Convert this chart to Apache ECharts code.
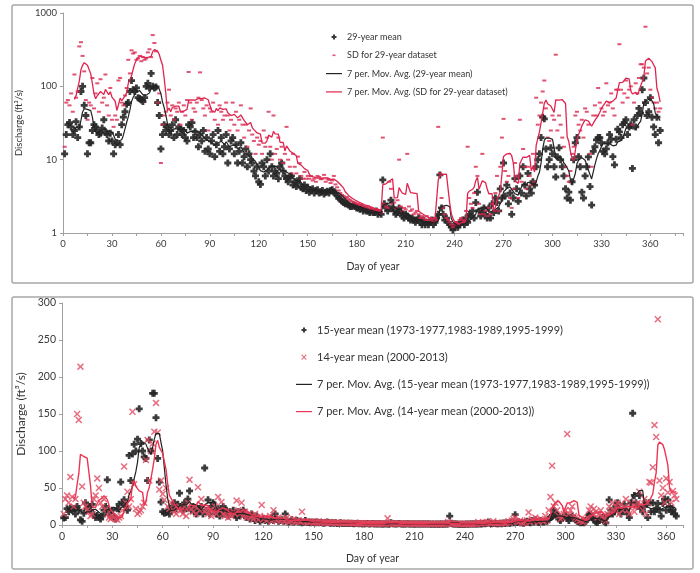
<!DOCTYPE html>
<html>
<head>
<meta charset="utf-8">
<title>Discharge</title>
<script src="https://cdn.jsdelivr.net/npm/echarts@6/dist/echarts.min.js"></script>
<style>
  html, body { margin: 0; padding: 0; background: #fff; }
  #chart { width: 700px; height: 573px; }
</style>
</head>
<body>
<div id="chart"></div>
<script>
// day of year, 1..366
var days = [];
for (var d = 1; d <= 366; d++) days.push(d);

// top panel: 29-year mean (ft3/s), 10 values per row
var mean29 = [
  12, 22, 30, 32, 28, 22, 25, 33, 20, 28,
  85, 100, 55, 40, 12, 17, 17, 25, 30, 28,
  25, 22, 23, 27, 35, 24, 22, 18, 23, 18,
  12, 16, 17, 22, 16, 30, 38, 45, 57, 60,
  85, 120, 90, 85, 95, 70, 68, 65, 62, 70,
  100, 110, 95, 150, 100, 95, 98, 60, 40, 14,
  22, 30, 25, 28, 22, 25, 30, 20, 35, 22,
  28, 26, 22, 25, 20, 18, 30, 28, 32, 20,
  24, 20, 15, 22, 18, 25, 13, 20, 14, 12,
  18, 22, 11, 16, 25, 13, 20, 12, 15, 22,
  9, 14, 18, 20, 12, 16, 9, 13, 17, 9,
  11, 14, 8, 12, 10, 9, 7, 6, 8, 5,
  4.6, 9, 8, 6, 10, 7, 12, 8, 6, 7,
  6.5, 5.5, 8, 9, 7, 6, 5.5, 5, 5.8, 6,
  4.5, 5, 4.3, 4.8, 5.5, 4.2, 4, 4.5, 3.8, 4.2,
  3.6, 3.8, 4, 3.5, 3.8, 3.9, 3.5, 3.6, 3.8, 3.4,
  3.6, 3.7, 3.5, 3.8, 3.9, 3.6, 3.5, 3.2, 3.0, 2.9,
  2.7, 2.6, 2.5, 2.5, 2.4, 2.3, 2.3, 2.4, 2.3, 2.2,
  2.2, 2.1, 2.2, 2.0, 2.1, 2.0, 2.0, 1.9, 2.0, 1.9,
  1.9, 2.0, 1.8, 1.9, 1.8, 5.3, 2.5, 2.2, 2.0, 2.2,
  2.8, 2.2, 2.0, 1.8, 1.9, 2.2, 1.9, 1.7, 1.6, 1.8,
  1.7, 1.6, 1.5, 1.6, 1.5, 1.4, 1.5, 1.6, 1.4, 1.3,
  1.5, 1.3, 1.4, 1.3, 1.4, 1.5, 1.3, 1.4, 1.6, 1.8,
  6.2, 2.2, 1.8, 1.5, 1.6, 1.4, 1.3, 1.2, 1.1, 1.2,
  1.3, 1.2, 1.3, 1.4, 1.5, 1.3, 1.6, 1.4, 1.8, 1.7,
  2.0, 1.6, 2.6, 3.6, 2.0, 1.7, 1.9, 2.2, 1.8, 1.6,
  2.2, 1.6, 2.5, 1.9, 3.0, 2.6, 2.0, 4.0, 3.0, 9.0,
  3.2, 4.5, 2.5, 3.5, 1.8, 3.0, 5.5, 4.0, 2.7, 6.0,
  3.5, 8.0, 4.5, 3.2, 6.5, 4.0, 3.5, 5.0, 4.5, 8.0,
  10, 12, 20, 38, 36, 14, 8, 10, 14.5, 12,
  8, 5.8, 11, 14.5, 10, 8, 6, 4, 3, 3.6,
  2.8, 5, 10, 17, 20, 11, 8, 3.6, 3.0, 6,
  8, 10.9, 4.3, 2.4, 13, 15, 18.6, 20, 20, 17,
  13, 12, 14, 17, 22, 19, 11, 8.5, 19, 26,
  24, 20, 30, 32, 35, 22, 28, 30, 7.6, 35,
  28, 40, 50, 43, 90, 130, 60, 40, 45, 70,
  38, 28, 22, 38, 17, 25
];

// top panel: SD for 29-year dataset
var sd29 = [
  15, 60, 65, 55, 80, 45, 145, 70, 85, 350,
  400, 260, 160, 65, 35, 60, 55, 130, 50, 80,
  110, 45, 125, 60, 70, 145, 55, 40, 95, 35,
  28, 40, 35, 120, 130, 60, 55, 75, 95, 230,
  150, 310, 280, 290, 230, 240, 260, 220, 250, 230,
  240, 290, 320, 250, 500, 390, 300, 60, 80, 9,
  30, 40, 45, 60, 90, 40, 55, 35, 50, 45,
  60, 30, 45, 55, 40, 65, 157, 60, 35, 50,
  45, 60, 70, 155, 65, 50, 40, 55, 25, 50,
  45, 60, 35, 80, 30, 55, 45, 35, 40, 60,
  40, 25, 35, 60, 30, 45, 25, 35, 55, 30,
  20, 30, 15, 25, 50, 22, 18, 12, 20, 16,
  18, 12, 25, 15, 20, 45, 15, 10, 40, 12,
  14, 20, 10, 15, 9, 12, 28, 10, 8, 6.5,
  12, 8, 6.5, 11, 9, 6, 5.5, 6.8, 5.5, 6,
  5.5, 6, 5.2, 5.5, 5, 6, 5.8, 5.4, 5.5, 6.2,
  5, 5.5, 5.3, 4.8, 5.2, 6, 4.6, 4.2, 3.8, 3.5,
  3.3, 3.2, 3.0, 3.1, 2.9, 2.8, 2.7, 2.6, 2.6, 2.5,
  2.5, 2.4, 2.4, 2.3, 2.3, 2.2, 2.3, 2.1, 2.2, 2.1,
  2.0, 2.1, 2.0, 2.0, 1.9, 20, 2.5, 2.3, 2.2, 5,
  4, 2.5, 2.6, 2.2, 2.8, 10, 2.3, 2.0, 2.2, 2.1,
  12, 2.3, 2.0, 2.1, 1.8, 1.9, 2.0, 1.8, 1.6, 1.7,
  1.6, 1.5, 1.7, 1.5, 1.6, 1.5, 1.4, 1.6, 1.5, 28,
  6.5, 3, 2.2, 1.8, 1.6, 1.5, 1.4, 1.3, 1.2, 1.3,
  1.4, 1.3, 1.5, 1.6, 1.5, 1.4, 2, 15, 3, 2.5,
  2.2, 3.5, 8, 6, 2.5, 1.8, 12, 1.8, 2.0, 1.7,
  2.2, 1.8, 2.5, 2.0, 3.5, 6, 2.0, 8, 20, 36,
  7, 5, 6, 3, 2.2, 4, 9, 6, 3, 35,
  5, 14, 8, 4, 8, 6, 4.5, 12, 5, 70,
  30, 40, 60, 85, 120, 50, 20, 18, 25, 40,
  35, 270, 25, 40, 30, 20, 15, 8, 6, 5,
  7, 12, 15, 40, 45, 30, 25, 35, 20, 50,
  45, 30, 12, 8, 40, 55, 40, 95, 60, 50,
  40, 45, 110, 55, 60, 80, 50, 40, 90, 90,
  375, 90, 60, 80, 120, 70, 90, 100, 30, 60,
  110, 80, 130, 200, 200, 180, 650, 150, 180, 90,
  70, 60, 50, 60, 45, 50
];

// bottom panel: 15-year mean (1973-1977,1983-1989,1995-1999)
var mean15 = [
  9.5, 10, 22, 18, 23, 20, 22, 15, 25, 20,
  7, 5, 16, 30, 22, 25, 20, 28, 14, 10,
  13, 10, 8, 12, 20, 25, 61, 18, 12, 20,
  11, 8, 22, 28, 58, 30, 34, 25, 20, 94,
  60, 96, 109, 100, 116, 157, 110, 100, 92, 90,
  60, 115, 100, 178, 178, 145, 90, 58, 31, 18,
  16, 17, 18, 15, 20, 25, 30, 22, 28, 43,
  25, 20, 30, 22, 35, 46, 20, 25, 18, 15,
  22, 18, 25, 15, 77, 20, 34, 15, 25, 30,
  20, 15, 22, 12, 18, 25, 15, 20, 12, 18,
  15, 20, 14, 10, 18, 12, 16, 20, 15, 10,
  12, 8, 15, 10, 6, 12, 8, 5, 7, 9,
  6, 8, 5, 7, 10, 6, 15, 8, 5, 6,
  7, 5, 15, 6, 4, 5, 7, 4, 5, 6,
  4, 5, 3, 4, 6, 3.5, 4, 3, 4, 3.5,
  3, 4, 3, 3.5, 3, 2.5, 3, 4, 3, 2.5,
  3, 2.5, 3, 2, 2.5, 3, 2, 2.5, 2, 2.5,
  2, 2.5, 2, 1.8, 2, 2.2, 1.8, 2, 1.5, 2,
  1.8, 2, 1.5, 1.8, 2, 1.5, 1.8, 1.5, 1.6, 1.5,
  1.4, 1.5, 1.6, 1.4, 1.5, 3, 1.8, 1.6, 1.5, 1.6,
  2, 1.5, 1.4, 1.5, 1.3, 1.6, 1.4, 1.5, 1.3, 1.4,
  1.4, 1.3, 1.5, 1.2, 1.3, 1.4, 1.2, 1.3, 1.2, 1.1,
  1.2, 1.1, 1.3, 1.1, 1.2, 1.3, 1.1, 1.2, 1.3, 1.5,
  12, 2, 1.5, 1.3, 1.2, 1.1, 1, 1.1, 1, 1.1,
  1.2, 1.1, 1.2, 1.3, 1.4, 1.2, 1.5, 1.3, 1.6, 1.5,
  2, 1.6, 2.5, 4, 2, 1.8, 2, 2.5, 1.8, 1.6,
  2.2, 1.7, 2.6, 2, 3, 2.8, 2.2, 4, 3, 14,
  3.5, 4.5, 3, 3.5, 2.5, 3.5, 5, 4, 3, 6,
  4, 7, 5, 3.5, 6, 4.5, 4, 5.5, 5, 8,
  10, 12, 20, 15, 14, 8, 6, 9, 11, 13,
  9, 6, 10, 12, 9, 7, 5, 4, 3, 3.5,
  3, 5, 9, 14, 15, 10, 7, 4, 3.5, 6,
  8, 10, 5, 3, 12, 34, 20, 15, 18, 25,
  30, 22, 15, 20, 28, 20, 15, 10, 30, 151,
  40, 30, 25, 40, 22, 18, 25, 30, 10, 30,
  18, 30, 18, 22, 29, 20, 12, 29, 35, 20,
  34, 25, 18, 20, 15, 12
];

// bottom panel: 14-year mean (2000-2013)
var mean14 = [
  15, 35, 40, 30, 65, 38, 25, 35, 150, 142,
  214, 52, 30, 25, 20, 18, 12, 15, 35, 40,
  63, 50, 30, 25, 35, 22, 15, 10, 8, 12,
  10, 8, 7, 10, 12, 20, 79, 30, 45, 25,
  35, 153, 55, 22, 15, 18, 20, 25, 30, 88,
  115, 60, 100, 110, 126, 165, 125, 48, 60, 42,
  34, 50, 25, 22, 30, 20, 18, 15, 22, 25,
  20, 15, 25, 12, 30, 61, 22, 18, 25, 15,
  51, 20, 35, 25, 18, 22, 15, 20, 12, 18,
  25, 15, 38, 20, 31, 15, 12, 18, 10, 15,
  12, 18, 15, 33, 20, 15, 30, 12, 18, 10,
  15, 10, 12, 8, 15, 10, 7, 12, 27, 8,
  10, 6, 8, 12, 5, 20, 8, 6, 10, 5,
  8, 6, 5, 10, 4, 6, 5, 8, 4, 5,
  6, 4, 18, 5, 4, 5, 3, 4, 5, 3,
  4, 3, 5, 3, 4, 3, 3.5, 3, 4, 3,
  3, 3.5, 2.5, 3, 3.5, 2.5, 3, 2.5, 3, 2.5,
  2.5, 3, 2.5, 2, 2.5, 2, 2.5, 2, 2.5, 2,
  2, 2.5, 2, 1.8, 2, 2.2, 1.8, 2, 1.8, 2,
  1.8, 2, 1.8, 9, 2, 2.5, 1.8, 2, 1.8, 2,
  2, 1.8, 2, 1.6, 1.8, 2, 1.6, 1.8, 1.6, 1.8,
  1.6, 1.8, 1.5, 1.6, 1.8, 1.5, 1.6, 1.5, 1.6, 1.5,
  1.5, 1.6, 1.4, 1.5, 1.6, 1.4, 1.5, 1.4, 1.6, 4,
  3, 2, 1.6, 1.5, 1.4, 1.3, 1.4, 1.3, 1.2, 1.3,
  1.4, 1.3, 1.5, 1.4, 1.6, 1.5, 2, 4, 2.2, 2,
  2.2, 2.8, 4, 3.5, 2.5, 2, 5, 2.2, 2.5, 2.2,
  2.5, 2.2, 3, 2.5, 3.5, 5, 2.8, 6, 8, 10,
  5, 4, 6, 3, 2.5, 4, 6, 17, 4, 8,
  5, 10, 7, 4, 8, 6, 5, 12, 6, 20,
  38, 80, 25, 30, 20, 12, 8, 10, 15, 20,
  123, 15, 20, 25, 12, 10, 8, 5, 6, 4,
  5, 8, 10, 20, 25, 15, 22, 18, 10, 15,
  20, 12, 8, 5, 15, 25, 18, 30, 20, 25,
  30, 15, 28, 20, 25, 35, 20, 15, 30, 25,
  18, 25, 30, 45, 28, 20, 35, 15, 30, 58,
  57, 78, 135, 119, 278, 60, 40, 50, 30, 63,
  44, 58, 30, 46, 40, 35
];

var topNames = ['29-year mean', 'SD for 29-year dataset',
  '7 per. Mov. Avg. (29-year mean)', '7 per. Mov. Avg. (SD for 29-year dataset)'];
var botNames = ['15-year mean (1973-1977,1983-1989,1995-1999)', '14-year mean (2000-2013)',
  '7 per. Mov. Avg. (15-year mean (1973-1977,1983-1989,1995-1999))',
  '7 per. Mov. Avg. (14-year mean (2000-2013))'];

var FONT = 'Lato';
var PLUS = 'path://M3,0H7V3H10V7H7V10H3V7H0V3H3Z';
var XMARK = 'path://M1.5,0L5,3.5L8.5,0L10,1.5L6.5,5L10,8.5L8.5,10L5,6.5L1.5,10L0,8.5L3.5,5L0,1.5Z';
// legend icons, all drawn in a 16x6 box (the two M points fix the box)
var ICON_PLUS = 'path://M0,0M16,6M7,0.5H9V2H10.5V4H9V5.5H7V4H5.5V2H7Z';
var ICON_DASH = 'path://M0,0M16,6M6.5,2.2H9.5V3.8H6.5Z';
var ICON_X = 'path://M0,0M16,6M5.3,0.9L6.1,0.1L8,2.2L9.9,0.1L10.7,0.9L8.8,3L10.7,5.1L9.9,5.9L8,3.8L6.1,5.9L5.3,5.1L7.2,3Z';
var ICON_LINE = 'path://M0,0M16,6M0,2.4H16V3.6H0Z';

function pairs(ys) {
  return days.map(function (d, i) { return [d, ys[i]]; });
}
// Excel style trailing moving average, 7 periods
function movAvg(ys, n) {
  var out = [];
  for (var i = n - 1; i < ys.length; i++) {
    var s = 0;
    for (var k = i - n + 1; k <= i; k++) s += ys[k];
    out.push([days[i], s / n]);
  }
  return out;
}

function xAxisCfg(idx, max, fs) {
  return {
    gridIndex: idx, type: 'value', min: 0, max: max, interval: 15,
    name: 'Day of year', nameLocation: 'middle', nameGap: 28,
    nameTextStyle: { fontFamily: FONT, fontSize: 10.5, color: '#333' },
    axisLine: { lineStyle: { color: '#a0a0a0', width: 1 } },
    axisTick: { length: 3, lineStyle: { color: '#a0a0a0' } },
    axisLabel: {
      fontFamily: FONT, fontSize: fs, color: '#3a3a3a', margin: 6,
      formatter: function (v) { return v % 30 === 0 ? String(v) : ''; }
    },
    splitLine: { show: false }
  };
}

var chart = echarts.init(document.getElementById('chart'));
chart.setOption({
  animation: false,
  backgroundColor: '#fff',
  graphic: [
    { type: 'rect', silent: true, z: -10, shape: { x: 12, y: 5, width: 681, height: 278, r: 2 },
      style: { fill: '#fff', stroke: '#a8a8a8', lineWidth: 1.5 } },
    { type: 'rect', silent: true, z: -10, shape: { x: 12, y: 297, width: 681, height: 272, r: 2 },
      style: { fill: '#fff', stroke: '#a8a8a8', lineWidth: 1.5 } }
  ],
  grid: [
    { left: 63, top: 13, width: 620, height: 220 },
    { left: 62, top: 303, width: 621, height: 222 }
  ],
  legend: [
    { data: [
        { name: topNames[0], icon: ICON_PLUS },
        { name: topNames[1], icon: ICON_DASH },
        { name: topNames[2], icon: ICON_LINE },
        { name: topNames[3], icon: ICON_LINE }
      ],
      orient: 'vertical', left: 321, top: 26, itemWidth: 16, itemHeight: 6,
      itemGap: 6.3, selectedMode: false,
      textStyle: { fontFamily: FONT, fontSize: 9, lineHeight: 12, color: '#333' } },
    { data: [
        { name: botNames[0], icon: ICON_PLUS },
        { name: botNames[1], icon: ICON_X },
        { name: botNames[2], icon: ICON_LINE },
        { name: botNames[3], icon: ICON_LINE }
      ],
      orient: 'vertical', left: 291, top: 318, itemWidth: 16, itemHeight: 6,
      itemGap: 13.2, selectedMode: false,
      textStyle: { fontFamily: FONT, fontSize: 11, lineHeight: 14, color: '#333' } }
  ],
  xAxis: [xAxisCfg(0, 380, 9.5), xAxisCfg(1, 370, 10.5)],
  yAxis: [
    {
      gridIndex: 0, type: 'log', logBase: 10, min: 1, max: 1000,
      name: 'Discharge (ft\u00b3/s)', nameLocation: 'middle', nameGap: 34,
      nameTextStyle: { fontFamily: FONT, fontSize: 9.5, color: '#333' },
      axisLine: { show: true, lineStyle: { color: '#a0a0a0' } },
      axisTick: { show: true, length: 3, lineStyle: { color: '#a0a0a0' } },
      axisLabel: { fontFamily: FONT, fontSize: 9.5, color: '#3a3a3a', margin: 6,
        formatter: function (v) { return String(Math.round(v)); } },
      splitLine: { show: false }
    },
    {
      gridIndex: 1, type: 'value', min: 0, max: 300, interval: 50,
      name: 'Discharge (ft\u00b3/s)', nameLocation: 'middle', nameGap: 32,
      nameTextStyle: { fontFamily: FONT, fontSize: 12, color: '#333' },
      axisLine: { show: true, lineStyle: { color: '#a0a0a0' } },
      axisTick: { show: true, length: 3, lineStyle: { color: '#a0a0a0' } },
      axisLabel: { fontFamily: FONT, fontSize: 10.5, color: '#3a3a3a', margin: 6 },
      splitLine: { show: false }
    }
  ],
  series: [
    { name: topNames[0], type: 'scatter', xAxisIndex: 0, yAxisIndex: 0, data: pairs(mean29),
      symbol: PLUS, symbolSize: 7, itemStyle: { color: '#262626', opacity: 0.9 } },
    { name: topNames[1], type: 'scatter', xAxisIndex: 0, yAxisIndex: 0, data: pairs(sd29),
      symbol: 'rect', symbolSize: [4, 2], itemStyle: { color: '#d8284f' } },
    { name: topNames[2], type: 'line', xAxisIndex: 0, yAxisIndex: 0, data: movAvg(mean29, 7),
      symbol: 'none', lineStyle: { color: '#222', width: 1.2 }, itemStyle: { color: '#222' } },
    { name: topNames[3], type: 'line', xAxisIndex: 0, yAxisIndex: 0, data: movAvg(sd29, 7),
      symbol: 'none', lineStyle: { color: '#e0244f', width: 1.3 }, itemStyle: { color: '#e0244f' } },

    { name: botNames[0], type: 'scatter', xAxisIndex: 1, yAxisIndex: 1, data: pairs(mean15),
      symbol: PLUS, symbolSize: 7, itemStyle: { color: '#262626', opacity: 0.9 } },
    { name: botNames[1], type: 'scatter', xAxisIndex: 1, yAxisIndex: 1, data: pairs(mean14),
      symbol: XMARK, symbolSize: 7, itemStyle: { color: '#e04a60' } },
    { name: botNames[2], type: 'line', xAxisIndex: 1, yAxisIndex: 1, data: movAvg(mean15, 7),
      symbol: 'none', lineStyle: { color: '#222', width: 1.2 }, itemStyle: { color: '#222' } },
    { name: botNames[3], type: 'line', xAxisIndex: 1, yAxisIndex: 1, data: movAvg(mean14, 7),
      symbol: 'none', lineStyle: { color: '#ec3552', width: 1.4 }, itemStyle: { color: '#ec3552' } }
  ]
});
</script>
</body>
</html>
